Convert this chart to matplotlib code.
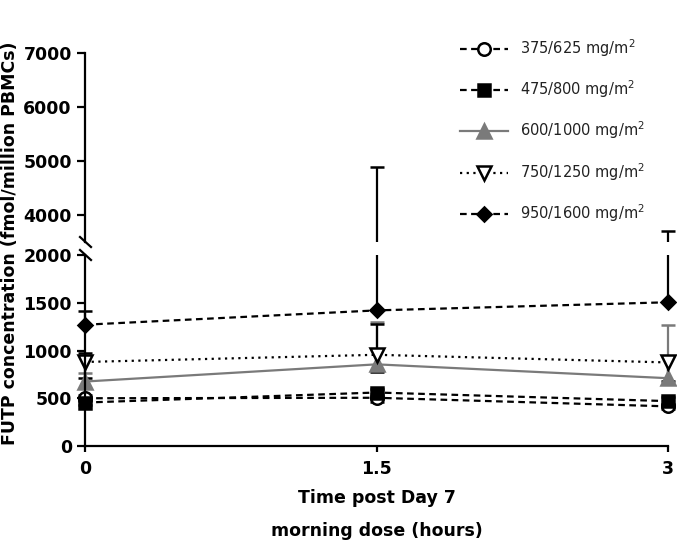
import matplotlib
matplotlib.use("Agg")
import matplotlib.pyplot as plt
from matplotlib.lines import Line2D
from matplotlib.transforms import Bbox, TransformedBbox

# Time points (hours post Day 7 morning dose)
times = [0, 1.5, 3]

dose_labels = [
    r"375/625 mg/m$^{2}$",
    r"475/800 mg/m$^{2}$",
    r"600/1000 mg/m$^{2}$",
    r"750/1250 mg/m$^{2}$",
    r"950/1600 mg/m$^{2}$",
]

# mean FUTP concentration (fmol/million PBMCs) with the error bars as drawn
mean_375 = [500, 505, 415]
lo_375 = [30, 40, 30]
hi_375 = [30, 40, 30]
mean_475 = [455, 560, 470]
lo_475 = [30, 40, 40]
hi_475 = [30, 40, 40]
mean_600 = [675, 855, 710]
lo_600 = [0, 0, 0]
hi_600 = [90, 445, 560]
mean_750 = [880, 955, 875]
lo_750 = [165, 180, 195]
hi_750 = [90, 320, 0]
mean_950 = [1270, 1420, 1505]
lo_950 = [0, 0, 0]
hi_950 = [140, 3470, 2200]

yticks_low = [0, 500, 1000, 1500, 2000]
yticks_high = [4000, 5000, 6000, 7000]

GREY = "#7a7a7a"
styles = [
    dict(color="black", ls=(0, (3, 2)), marker="o", mfc="white", mec="black", ms=9),
    dict(color="black", ls=(0, (3, 2)), marker="s", mfc="black", mec="black", ms=8.5),
    dict(color=GREY, ls="-", marker="^", mfc=GREY, mec=GREY, ms=9.5),
    dict(color="black", ls=(0, (1, 2)), marker="v", mfc="white", mec="black", ms=9.5),
    dict(color="black", ls=(0, (3, 2)), marker="D", mfc="black", mec="black", ms=7.5),
]
means = [mean_375, mean_475, mean_600, mean_750, mean_950]
errs_lo = [lo_375, lo_475, lo_600, lo_750, lo_950]
errs_hi = [hi_375, hi_475, hi_600, hi_750, hi_950]

W, H = 677, 546
fig = plt.figure(figsize=(W / 100, H / 100), dpi=100)

x0, x1 = 85, 668
ax_hi = fig.add_axes([x0 / W, (H - 242) / H, (x1 - x0) / W, (242 - 53) / H])
ax_lo = fig.add_axes([x0 / W, (H - 446) / H, (x1 - x0) / W, (446 - 255) / H])

TICKFONT = dict(family="DejaVu Sans", weight="bold", size=12.5)

for ax in (ax_hi, ax_lo):
    ax.set_xlim(0, 3)
    for side in ("top", "right"):
        ax.spines[side].set_visible(False)
    ax.spines["left"].set_linewidth(1.6)
    ax.spines["bottom"].set_linewidth(1.6)
    ax.tick_params(axis="y", direction="out", length=6, width=1.6, pad=3.5)
    ax.tick_params(axis="x", direction="out", length=4, width=1.6, pad=6)
    ax.patch.set_alpha(0)

    clip = TransformedBbox(Bbox([[-0.05, 0.0], [1.05, 1.0]]), ax.transAxes)
    for m, lo, hi, st in zip(means, errs_lo, errs_hi, styles):
        cont = ax.errorbar(times, m, yerr=[lo, hi], color=st["color"],
                           ls=st["ls"], lw=1.6, marker=st["marker"],
                           mfc=st["mfc"], mec=st["mec"], ms=st["ms"], mew=1.8,
                           ecolor=st["color"], elinewidth=1.6, capsize=5,
                           capthick=1.6)
        # drop caps where there is no bar
        low_caps, up_caps = cont.lines[1]
        keep = [i for i, v in enumerate(lo) if v > 0]
        low_caps.set_data([times[i] for i in keep],
                          [m[i] - lo[i] for i in keep])
        keep = [i for i, v in enumerate(hi) if v > 0]
        up_caps.set_data([times[i] for i in keep],
                         [m[i] + hi[i] for i in keep])
        artists = [cont.lines[0]] + list(cont.lines[1]) + list(cont.lines[2])
        for a in artists:
            a.set_clip_on(True)
            a.set_clip_box(clip)

ax_hi.set_ylim(3500, 7000)
ax_hi.set_yticks(yticks_high)
ax_hi.spines["bottom"].set_visible(False)
ax_hi.tick_params(axis="x", bottom=False, labelbottom=False)

ax_lo.set_ylim(0, 2000)
ax_lo.set_yticks(yticks_low)
ax_lo.set_xticks(times)
ax_lo.set_xticklabels(["0", "1.5", "3"])

for ax in (ax_hi, ax_lo):
    for lab in ax.get_yticklabels() + ax.get_xticklabels():
        lab.set_fontproperties(TICKFONT)

ax_lo.set_xlabel("Time post Day 7\nmorning dose (hours)", fontdict=TICKFONT,
                 linespacing=2.1, labelpad=8)

fig.text(10 / W, (H - 243) / H, "FUTP concentration (fmol/million PBMCs)",
         rotation=90, ha="center", va="center", **TICKFONT)

# axis break marks
for yc in (242, 255):
    fig.add_artist(Line2D([(x0 - 5) / W, (x0 + 6) / W],
                          [(H - yc + 5) / H, (H - yc - 5) / H],
                          color="black", lw=1.6))

# legend
handles = [Line2D([0], [0], color=st["color"], ls=st["ls"], lw=1.6,
                  marker=st["marker"], mfc=st["mfc"], mec=st["mec"],
                  ms=st["ms"], mew=1.8) for st in styles]
fig.legend(handles, dose_labels, loc="upper left",
           bbox_to_anchor=(460 / W, (H - 37) / H), frameon=False,
           prop=dict(family="DejaVu Sans", size=10.5), labelcolor="#222222",
           handlelength=3.3, handletextpad=0.8, labelspacing=1.35,
           borderpad=0, borderaxespad=0)

fig.savefig("out.png", dpi=100)
